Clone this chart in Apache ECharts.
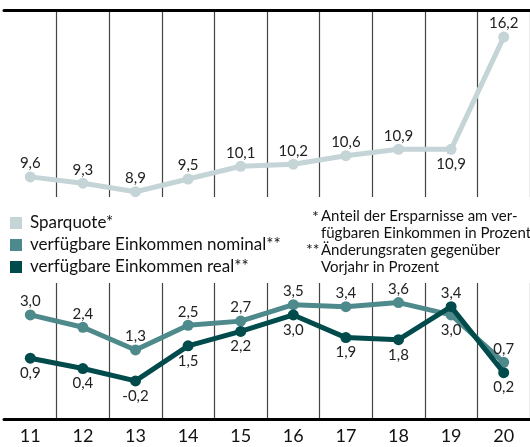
<!DOCTYPE html>
<html><head><meta charset="utf-8">
<script src="https://cdn.jsdelivr.net/npm/echarts@6/dist/echarts.min.js"></script>
<style>html,body{margin:0;padding:0;background:#fff}#c{width:530px;height:447px}</style>
</head><body><div id="c"></div>
<script>
const years = ['11','12','13','14','15','16','17','18','19','20'];
const sparquote = [9.6, 9.3, 8.9, 9.5, 10.1, 10.2, 10.6, 10.9, 10.9, 16.2];
const nominal = [3.0, 2.4, 1.3, 2.5, 2.7, 3.5, 3.4, 3.6, 3.0, 0.7];
const real = [0.9, 0.4, -0.2, 1.5, 2.2, 3.0, 1.9, 1.8, 3.4, 0.2];
const names = ['Sparquote*', 'verfügbare Einkommen nominal**', 'verfügbare Einkommen real**'];

const FONT = 'Lato';
const cSp = '#c4d4d7', cNom = '#4e8a8b', cReal = '#024b4c';
const fmt = v => v.toFixed(1).replace('.', ',');

function pts(vals, posFn) {
  return vals.map((v, i) => ({
    value: v,
    label: { position: posFn(i) ? 'top' : 'bottom', distance: posFn(i) ? 0.5 : 2 }
  }));
}

const chart = echarts.init(document.getElementById('c'), null, {renderer: 'canvas'});
const labelBase = { show: true, formatter: p => fmt(p.value), color: '#222', fontFamily: FONT, fontSize: 15 };
const splitLine = { show: true, interval: (i) => i !== 0, lineStyle: { color: '#444', width: 1.2 } };

chart.setOption({
  animation: false,
  textStyle: { fontFamily: FONT },
  grid: [
    { left: 4, width: 530, top: 10, height: 187 },
    { left: 4, width: 530, top: 283, height: 136 }
  ],
  xAxis: [
    { gridIndex: 0, type: 'category', data: years, position: 'top', boundaryGap: true,
      axisLine: { show: true, onZero: false, lineStyle: { color: '#000', width: 3 } },
      axisTick: { show: false }, axisLabel: { show: false }, splitLine },
    { gridIndex: 1, type: 'category', data: years, position: 'bottom', boundaryGap: true,
      axisLine: { show: true, onZero: false, lineStyle: { color: '#000', width: 3 } },
      axisTick: { show: false },
      axisLabel: { show: true, color: '#111', fontSize: 18, fontFamily: FONT, margin: 8 },
      splitLine }
  ],
  yAxis: [
    { gridIndex: 0, type: 'value', min: 8.65, max: 17.48, show: false, splitLine: { show: false } },
    { gridIndex: 1, type: 'value', min: -2.05, max: 4.55, show: false, splitLine: { show: false } }
  ],
  legend: {
    orient: 'vertical', left: 5, top: 207, itemWidth: 12, itemHeight: 12, itemGap: 0,
    icon: 'rect', data: names,
    textStyle: { fontFamily: FONT, fontSize: 17, color: '#111', lineHeight: 22, padding: [0, 0, 0, 3] }
  },
  series: [
    { name: names[0], type: 'line', xAxisIndex: 0, yAxisIndex: 0,
      data: pts(sparquote, i => i !== 8),
      color: cSp, lineStyle: { width: 5, color: cSp }, symbol: 'circle', symbolSize: 11,
      itemStyle: { color: cSp }, label: labelBase, z: 3 },
    { name: names[1], type: 'line', xAxisIndex: 1, yAxisIndex: 1,
      data: pts(nominal, i => nominal[i] >= real[i]),
      color: cNom, lineStyle: { width: 5, color: cNom }, symbol: 'circle', symbolSize: 11,
      itemStyle: { color: cNom }, label: labelBase, z: 3 },
    { name: names[2], type: 'line', xAxisIndex: 1, yAxisIndex: 1,
      data: pts(real, i => real[i] > nominal[i]),
      color: cReal, lineStyle: { width: 5, color: cReal }, symbol: 'circle', symbolSize: 11,
      itemStyle: { color: cReal }, label: labelBase, z: 4 }
  ],
  graphic: [
    { type: 'text', left: 312, top: 209, style: { text: '*', font: '16px Lato', fill: '#111' } },
    { type: 'text', left: 321, top: 208, style: { text: 'Anteil der Ersparnisse am ver-\nfügbaren Einkommen in Prozent', font: '15px Lato', lineHeight: 16.8, fill: '#111' } },
    { type: 'text', left: 306, top: 242, style: { text: '**', font: '16px Lato', fill: '#111' } },
    { type: 'text', left: 321, top: 241.5, style: { text: 'Änderungsraten gegenüber\nVorjahr in Prozent', font: '15px Lato', lineHeight: 16.8, fill: '#111' } }
  ]
});
</script></body></html>
